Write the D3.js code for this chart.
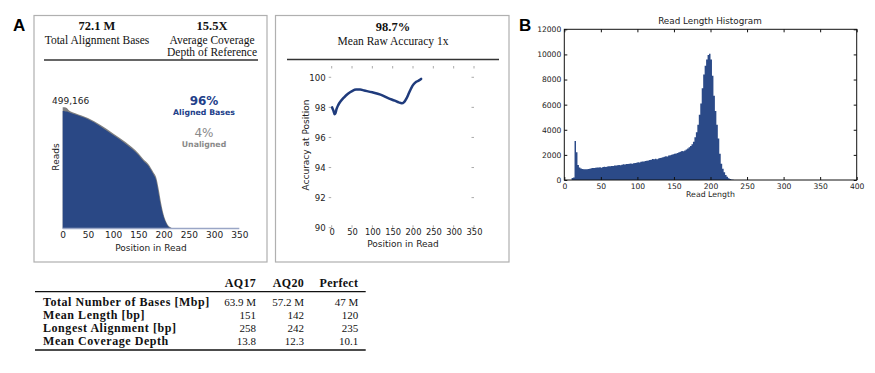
<!DOCTYPE html>
<html><head><meta charset="utf-8">
<script src="https://cdn.jsdelivr.net/npm/d3@7"></script>
<style>body{margin:0;background:#fff}svg{display:block}</style>
</head><body><svg id="c" width="875" height="373"></svg>
<script>
// ---------- DATA ----------
// Panel A-left: reads covering each position
const readPos   = [0, 4, 8, 12, 16, 25, 50, 75, 100, 125, 150, 160, 170, 175, 180, 185, 190, 195, 200, 205, 210, 215, 220, 230, 250, 300, 350];
const readsAligned = [483900, 483000, 481500, 479000, 476000, 469000, 449600, 420000, 384900, 347800, 302400, 277600, 257000, 240500, 222000, 199300, 145600, 89100, 47900, 21900, 6600, 2000, 500, 0, 0, 0, 0];
const readsTotal   = [499166, 499000, 496000, 487000, 482000, 475000, 455000, 426000, 391500, 355000, 309500, 285000, 264500, 248500, 231000, 212000, 165000, 105000, 58000, 28000, 10000, 3500, 1000, 200, 0, 0, 0];
const readTicks = [0, 50, 100, 150, 200, 250, 300, 350];
const headerA = [{v:"72.1 M", l:["Total Alignment Bases"]}, {v:"15.5X", l:["Average Coverage","Depth of Reference"]}];
const alignedPct = "96%", unalignedPct = "4%", maxReads = "499,166";

// Panel A-middle: accuracy by position
const accPos = [1, 4, 7, 9, 12, 16, 22, 30, 40, 50, 60, 70, 80, 100, 120, 140, 155, 165, 172, 178, 184, 190, 196, 202, 208, 214, 218, 220];
const accVal = [98.0, 97.8, 97.55, 97.6, 97.9, 98.15, 98.4, 98.65, 98.9, 99.08, 99.18, 99.18, 99.12, 99.0, 98.85, 98.6, 98.45, 98.33, 98.27, 98.35, 98.6, 98.95, 99.3, 99.55, 99.7, 99.78, 99.85, 99.9];
const accTicks = [90, 92, 94, 96, 98, 100];
const headerAcc = {v:"98.7%", l:"Mean Raw Accuracy 1x"};

// Panel B: read length histogram (2-bp bins, start positions)
const binStart = [10,12,14,16,18,20,22,24,26,28,30,32,34,36,38,40,42,44,46,48,50,52,54,56,58,60,62,64,66,68,70,72,74,76,78,80,82,84,86,88,90,92,94,96,98,100,102,104,106,108,110,112,114,116,118,120,122,124,126,128,130,132,134,136,138,140,142,144,146,148,150,152,154,156,158,160,162,164,166,168,170,172,174,176,178,180,182,184,186,188,190,192,194,196,198,200,202,204,206,208,210,212,214,216,218,220,222,224,226,228,230,232,234];
const binCount = [150,200,3100,2200,1200,1000,920,880,860,850,860,880,900,940,960,950,980,1000,990,1010,980,1030,1060,1040,1080,1100,1090,1110,1120,1150,1160,1170,1200,1180,1220,1250,1240,1270,1280,1300,1320,1300,1340,1360,1380,1420,1400,1450,1470,1480,1510,1540,1560,1590,1620,1680,1650,1700,1660,1720,1760,1780,1820,1850,1900,1870,1950,1980,2020,2050,2100,2120,2150,2200,2250,2300,2280,2350,2420,2500,2600,2700,2850,3050,3400,3800,4400,5200,6100,7300,8400,9100,9600,9950,10050,9600,8300,6700,5500,4400,3300,2100,1300,900,620,400,250,130,70,35,15,8,0];
const histXTicks = [0, 50, 100, 150, 200, 250, 300, 350, 400];
const histYTicks = [0, 2000, 4000, 6000, 8000, 10000, 12000];

// Table
const tableCols = ["AQ17", "AQ20", "Perfect"];
const tableRows = ["Total Number of Bases [Mbp]", "Mean Length [bp]", "Longest Alignment [bp]", "Mean Coverage Depth"];
const tableValues = [["63.9 M","57.2 M","47 M"],["151","142","120"],["258","242","235"],["13.8","12.3","10.1"]];

// ---------- DRAW ----------
const svg = d3.select("#c");
const BLUE = "#2a4885", GRAY = "#808080";
const SERIF = "'Liberation Serif','DejaVu Serif',serif";
const SANS = "'DejaVu Sans',sans-serif";

svg.append("rect").attr("width",875).attr("height",373).attr("fill","#fff");

// panel letters
svg.append("text").attr("x",13).attr("y",31).text("A").attr("font-family","'Liberation Sans',Arial,sans-serif").attr("font-weight","bold").attr("font-size",17);
svg.append("text").attr("x",519).attr("y",31).text("B").attr("font-family","'Liberation Sans',Arial,sans-serif").attr("font-weight","bold").attr("font-size",17);

// boxes
[[34,15.5,233,246.5],[275.5,15.5,233.5,246.5]].forEach(b=>{
  svg.append("rect").attr("x",b[0]).attr("y",b[1]).attr("width",b[2]).attr("height",b[3]).attr("fill","none").attr("stroke","#b0b0b0").attr("stroke-width",1.2);
});

// ----- Panel 1 header
const hA = svg.append("g").attr("font-family",SERIF).attr("text-anchor","middle").attr("fill","#111");
[97, 212].forEach((cx,i)=>{
  hA.append("text").attr("x",cx).attr("y",30).attr("font-weight","bold").attr("font-size",12.5).text(headerA[i].v);
  headerA[i].l.forEach((s,j)=>hA.append("text").attr("x",cx).attr("y",44+j*11.5).attr("font-size",11.5).text(s));
});
svg.append("line").attr("x1",44).attr("x2",258).attr("y1",60).attr("y2",60).attr("stroke","#333").attr("stroke-width",1.4);

// ----- Panel 1 chart
const xA = d3.scaleLinear().domain([0,350]).range([62.7,239.3]);
const yA = d3.scaleLinear().domain([0,499166]).range([228.5,107.3]);
const areaTotal = d3.area().x((d,i)=>xA(readPos[i])).y0(yA(0)).y1((d)=>yA(d)).curve(d3.curveMonotoneX);
svg.append("path").datum(readsTotal).attr("d",areaTotal).attr("fill",GRAY);
svg.append("path").datum(readsAligned).attr("d",areaTotal).attr("fill",BLUE);
svg.append("line").attr("x1",xA(0)).attr("x2",xA(350)).attr("y1",yA(0)).attr("y2",yA(0)).attr("stroke","#9aa6c6").attr("stroke-width",1.3);
const axA = svg.append("g").attr("transform",`translate(0,${yA(0)})`)
  .call(d3.axisBottom(xA).tickValues(readTicks).tickSize(0).tickPadding(3));
axA.select(".domain").remove();
axA.selectAll("text").attr("font-family",SANS).attr("font-size",9).attr("fill","#222");
const tA = svg.append("g").attr("font-family",SANS).attr("fill","#222");
tA.append("text").attr("x",xA(175)).attr("y",250.5).attr("text-anchor","middle").attr("font-size",9).text("Position in Read");
tA.append("text").attr("transform","translate(58.5,157) rotate(-90)").attr("text-anchor","middle").attr("font-size",9).text("Reads");
tA.append("text").attr("x",52).attr("y",103.5).attr("font-size",9).text(maxReads);
tA.append("text").attr("x",204).attr("y",104.5).attr("text-anchor","middle").attr("font-size",12).attr("font-weight","bold").attr("fill","#22408a").text(alignedPct);
tA.append("text").attr("x",204).attr("y",115).attr("text-anchor","middle").attr("font-size",7.8).attr("font-weight","bold").attr("fill","#22408a").text("Aligned Bases");
tA.append("text").attr("x",204).attr("y",136.5).attr("text-anchor","middle").attr("font-size",12).attr("fill","#8a8a8a").text(unalignedPct);
tA.append("text").attr("x",204).attr("y",146.5).attr("text-anchor","middle").attr("font-size",7.8).attr("font-weight","bold").attr("fill","#8a8a8a").text("Unaligned");

// ----- Panel 2 header
const h2 = svg.append("g").attr("font-family",SERIF).attr("text-anchor","middle").attr("fill","#111");
h2.append("text").attr("x",393).attr("y",31).attr("font-weight","bold").attr("font-size",12.5).text(headerAcc.v);
h2.append("text").attr("x",393).attr("y",45).attr("font-size",11.5).text(headerAcc.l);
svg.append("line").attr("x1",287).attr("x2",499).attr("y1",59.5).attr("y2",59.5).attr("stroke","#333").attr("stroke-width",1.4);

// ----- Panel 2 chart
const x2 = d3.scaleLinear().domain([0,350]).range([331.7,474]);
const y2 = d3.scaleLinear().domain([90,100.75]).range([227.7,66]);
const tick2 = svg.append("g").attr("stroke","#aaa").attr("stroke-width",1);
readTicks.forEach(t=>{
  tick2.append("line").attr("x1",x2(t)).attr("x2",x2(t)).attr("y1",66).attr("y2",68.5);
  tick2.append("line").attr("x1",x2(t)).attr("x2",x2(t)).attr("y1",227.7).attr("y2",225.2);
});
accTicks.forEach(t=>{
  tick2.append("line").attr("x1",x2(0)-3).attr("x2",x2(0)-0.5).attr("y1",y2(t)).attr("y2",y2(t));
  tick2.append("line").attr("x1",x2(350)-2.5).attr("x2",x2(350)).attr("y1",y2(t)).attr("y2",y2(t));
});
const ax2x = svg.append("g").attr("transform",`translate(0,${y2(90)})`).call(d3.axisBottom(x2).tickValues(readTicks).tickSize(0).tickPadding(1.5));
ax2x.select(".domain").remove();
ax2x.selectAll("text").attr("font-family",SANS).attr("font-size",8.3).attr("fill","#222");
const ax2y = svg.append("g").attr("transform",`translate(${x2(0)-6},0)`).call(d3.axisLeft(y2).tickValues(accTicks).tickSize(0).tickPadding(0));
ax2y.select(".domain").remove();
ax2y.selectAll("text").attr("font-family",SANS).attr("font-size",8.6).attr("fill","#222");
svg.append("path").datum(accVal).attr("d",d3.line().x((d,i)=>x2(accPos[i])).y(d=>y2(d)).curve(d3.curveMonotoneX))
  .attr("fill","none").attr("stroke","#1f3b7c").attr("stroke-width",2.5).attr("stroke-linejoin","round").attr("stroke-linecap","round");
svg.append("text").attr("x",403).attr("y",246.5).attr("text-anchor","middle").attr("font-family",SANS).attr("font-size",9).attr("fill","#222").text("Position in Read");
svg.append("text").attr("transform","translate(309,145) rotate(-90)").attr("text-anchor","middle").attr("font-family",SANS).attr("font-size",9).attr("fill","#222").text("Accuracy at Position");

// ----- Panel B histogram
const xB = d3.scaleLinear().domain([0,400]).range([564.3,856.7]);
const yB = d3.scaleLinear().domain([0,12000]).range([180,29.3]);
const histArea = d3.area().x((d,i)=>xB(binStart[i])).y0(yB(0)).y1(d=>yB(d)).curve(d3.curveStepAfter);
svg.append("path").datum(binCount).attr("d",histArea).attr("fill","#2b4a88");
svg.append("rect").attr("x",xB(0)).attr("y",yB(12000)).attr("width",xB(400)-xB(0)).attr("height",yB(0)-yB(12000)).attr("fill","none").attr("stroke","#111").attr("stroke-width",1);
const gBx = svg.append("g").attr("transform",`translate(0,${yB(0)})`).call(d3.axisBottom(xB).tickValues(histXTicks).tickSize(-3).tickPadding(4));
gBx.select(".domain").remove();
const gBxt = svg.append("g").attr("transform",`translate(0,${yB(12000)})`).call(d3.axisTop(xB).tickValues(histXTicks).tickSize(-3).tickFormat(""));
gBxt.select(".domain").remove();
const gBy = svg.append("g").attr("transform",`translate(${xB(0)},0)`).call(d3.axisLeft(yB).tickValues(histYTicks).tickSize(-3).tickPadding(3).tickFormat(d3.format("d")));
gBy.select(".domain").remove();
const gByr = svg.append("g").attr("transform",`translate(${xB(400)},0)`).call(d3.axisRight(yB).tickValues(histYTicks).tickSize(-3).tickFormat(""));
gByr.select(".domain").remove();
[gBx,gBy].forEach(g=>g.selectAll("text").attr("font-family",SANS).attr("font-size",7.6).attr("fill","#222"));
[gBx,gBxt,gBy,gByr].forEach(g=>g.selectAll("line").attr("stroke","#111"));
svg.append("text").attr("x",710).attr("y",24).attr("text-anchor","middle").attr("font-family",SANS).attr("font-size",8.8).attr("fill","#222").text("Read Length Histogram");
svg.append("text").attr("x",xB(200)).attr("y",197).attr("text-anchor","middle").attr("font-family",SANS).attr("font-size",7.8).attr("fill","#222").text("Read Length");

// ----- Table
const tb = svg.append("g").attr("font-family",SERIF).attr("fill","#111");
const colRight = [256, 304, 358.3];
tableCols.forEach((c,i)=>tb.append("text").attr("x",colRight[i]).attr("y",286.5).attr("text-anchor","end").attr("font-weight","bold").attr("font-size",12).attr("letter-spacing",0.3).text(c));
tb.append("line").attr("x1",35).attr("x2",365.7).attr("y1",291.7).attr("y2",291.7).attr("stroke","#111").attr("stroke-width",1.3);
tableRows.forEach((r,j)=>{
  const y = 305.5 + j*13;
  tb.append("text").attr("x",43).attr("y",y).attr("font-weight","bold").attr("font-size",12).attr("letter-spacing",0.55).text(r);
  tableValues[j].forEach((v,i)=>tb.append("text").attr("x",colRight[i]).attr("y",y).attr("text-anchor","end").attr("font-size",11).text(v));
});
tb.append("line").attr("x1",35).attr("x2",365.7).attr("y1",350).attr("y2",350).attr("stroke","#111").attr("stroke-width",1.3);
</script></body></html>
